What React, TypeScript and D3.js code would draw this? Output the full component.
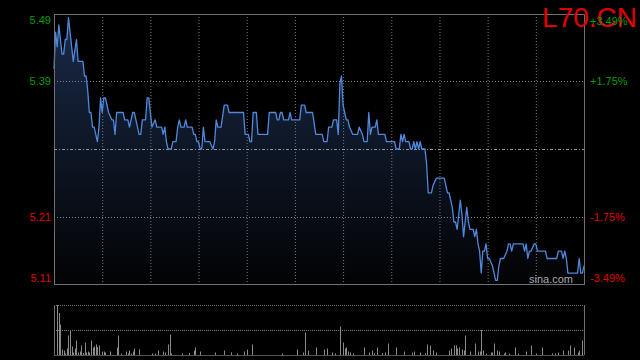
import React from "react";
import * as d3 from "d3";

const title = "L70.CN";
const prevClose = 5.30;
const pctLevels = [0.0349, 0.0175, -0.0175, -0.0349];
const priceLabels = ["5.49", "5.39", "5.21", "5.11"];
const pctLabels = ["+3.49%", "+1.75%", "-1.75%", "-3.49%"];
const totalMinutes = 330;
const gridStepMinutes = 30;

const times = [
  0, 1, 2, 3, 5, 6, 7, 8, 9, 11, 12, 14, 15, 18, 19, 20, 21, 22, 23, 24, 25, 27, 28, 29, 30, 31, 32, 34, 36, 37, 38, 39,
  43, 44, 46, 47, 49, 50, 52, 53, 54, 55, 57, 58, 59, 61, 63, 64, 67, 68, 69, 70, 71, 73, 74, 76, 77, 78, 79, 81, 82, 83,
  86, 87, 88, 89, 90, 91, 92, 93, 94, 97, 99, 100, 101, 102, 104, 106, 108, 109, 118, 119, 121, 122, 123, 124, 126, 127,
  133, 134, 138, 139, 140, 141, 142, 143, 146, 147, 148, 153, 154, 156, 157, 161, 163,
  165, 167, 168, 170, 171, 173, 174, 176, 177, 178, 179, 180, 181, 182, 183, 184, 186, 189, 190, 192, 193, 195, 196, 197,
  198, 200, 201, 202, 206, 207, 212, 213, 215, 216, 217, 218, 219, 221, 222, 223, 224, 225, 226, 227, 228, 229, 231, 232,
  233, 235, 236, 238, 243, 244, 245, 246, 248, 249, 250, 251, 252, 253, 254, 255, 256, 257, 258, 259, 261, 262, 263, 264,
  265, 266, 267, 268, 269, 270, 271, 273, 274, 275, 276, 277, 278, 280, 282, 283, 284, 285, 286, 292, 293, 294, 295, 296,
  297, 299, 300, 301, 306, 307, 313, 314, 316, 317, 318, 319, 320, 326, 327, 328, 329, 330,
];
const prices = [
  5.41, 5.46, 5.44, 5.47, 5.43, 5.43, 5.45, 5.45, 5.48, 5.44, 5.42, 5.45, 5.42, 5.42, 5.40, 5.40, 5.38, 5.35, 5.35, 5.33, 5.33, 5.31, 5.33, 5.37, 5.35, 5.37, 5.37, 5.35, 5.34, 5.34, 5.32, 5.35,
  5.35, 5.34, 5.34, 5.33, 5.35, 5.35, 5.33, 5.32, 5.32, 5.34, 5.34, 5.37, 5.37, 5.33, 5.34, 5.33, 5.33, 5.32, 5.33, 5.31, 5.30, 5.30, 5.31, 5.31, 5.33, 5.34, 5.33, 5.33, 5.34, 5.33,
  5.33, 5.32, 5.32, 5.31, 5.31, 5.30, 5.30, 5.33, 5.31, 5.31, 5.30, 5.31, 5.34, 5.33, 5.33, 5.36, 5.36, 5.35, 5.35, 5.32, 5.32, 5.31, 5.31, 5.35, 5.35, 5.32,
  5.32, 5.35, 5.35, 5.34, 5.34, 5.35, 5.35, 5.34, 5.34, 5.35, 5.34, 5.34, 5.36, 5.36, 5.35, 5.35, 5.32,
  5.32, 5.32, 5.31, 5.31, 5.33, 5.33, 5.34, 5.34, 5.32, 5.39, 5.40, 5.36, 5.35, 5.34, 5.34, 5.33, 5.32, 5.32, 5.33, 5.32, 5.31, 5.31, 5.35, 5.32,
  5.33, 5.33, 5.34, 5.32, 5.32, 5.31, 5.31, 5.30, 5.30, 5.32, 5.31, 5.32, 5.31, 5.31, 5.30, 5.30, 5.31, 5.30, 5.31, 5.30, 5.31, 5.30, 5.30, 5.28,
  5.24, 5.24, 5.25, 5.26, 5.26, 5.25, 5.24, 5.24, 5.22, 5.20, 5.20, 5.19, 5.21, 5.23, 5.21, 5.18, 5.20, 5.22, 5.20, 5.19, 5.19, 5.18, 5.19, 5.17,
  5.16, 5.13, 5.16, 5.16, 5.17, 5.15, 5.15, 5.14, 5.13, 5.12, 5.12, 5.14, 5.15, 5.15, 5.16, 5.17, 5.17, 5.16, 5.17, 5.17, 5.16, 5.17, 5.15, 5.16,
  5.16, 5.17, 5.17, 5.16, 5.16, 5.15, 5.15, 5.16, 5.16, 5.15, 5.16, 5.15, 5.13, 5.13, 5.15, 5.13, 5.13, 5.14,
];

const volTimes = [
  0, 2, 3, 4, 5, 6, 7, 8, 9, 10, 11, 12, 13, 14, 15, 16, 17, 18, 19, 20, 21, 22, 23, 24, 25, 26, 27, 28, 30, 31, 32, 35,
  39, 40, 42, 45, 46, 47, 48, 49, 50, 53, 61, 63, 65, 68, 69, 71, 72, 73, 80, 84, 87, 88, 91, 100, 106, 110, 114, 118, 120, 123,
  142, 151, 155, 156, 158, 163, 168, 170, 173, 175, 178, 180, 181, 182, 183, 184, 186, 193, 196, 198, 199, 201, 204, 206, 208, 213,
  218, 223, 224, 228, 231, 232, 234, 236, 238, 246, 247, 249, 250, 251, 252, 254, 255, 256, 259, 262, 264, 265, 266, 267, 269, 272,
  273, 274, 276, 277, 280, 281, 283, 287, 289, 294, 297, 300, 304, 310, 312, 314, 317, 320, 321, 324, 326, 327, 329, 330,
];
const volumes = [
  39, 100, 84, 61, 11, 9, 3, 13, 39, 48, 17, 5, 13, 29, 5, 7, 19, 4, 25, 5, 7, 5, 29, 15, 17, 21, 16, 19, 7, 7, 5, 7,
  15, 39, 3, 7, 3, 9, 3, 7, 13, 11, 3, 3, 9, 7, 5, 21, 41, 3, 3, 4, 9, 15, 7, 5, 9, 5, 3, 7, 11, 21,
  3, 11, 5, 45, 9, 15, 11, 13, 5, 3, 57, 25, 13, 15, 7, 5, 3, 15, 5, 9, 3, 15, 4, 5, 23, 15,
  7, 5, 7, 5, 4, 21, 19, 9, 5, 9, 13, 19, 19, 13, 15, 11, 9, 39, 7, 23, 7, 7, 50, 9, 3, 5,
  5, 23, 9, 7, 3, 5, 3, 15, 3, 7, 19, 3, 15, 3, 3, 5, 9, 9, 19, 15, 5, 9, 29, 16,
];

export default function App() {
  const W = 640, H = 360;
  const left = 54, right = 584, top = 14, bottom = 284;
  const vTop = 305, vBottom = 355;
  const font = "Arial, 'Liberation Sans', sans-serif";

  const x = d3.scaleLinear().domain([0, totalMinutes]).range([left, right]);
  const y = d3
    .scaleLinear()
    .domain([prevClose * (1 - pctLevels[0]), prevClose * (1 + pctLevels[0])])
    .range([bottom, top]);
  const yv = d3.scaleLinear().domain([0, d3.max(volumes) as number]).range([vBottom, vTop]);

  const pts = times.map((t, i) => [t, prices[i]] as [number, number]);
  const line = d3.line<[number, number]>().x((d) => x(d[0])).y((d) => y(d[1]));
  const area = d3
    .area<[number, number]>()
    .x((d) => x(d[0]))
    .y0(bottom)
    .y1((d) => y(d[1]));

  const vGrid = d3.range(gridStepMinutes, totalMinutes, gridStepMinutes);
  const labelY = (i: number, side: "l" | "r") => {
    if (i === 0) return side === "l" ? top + 10 : top + 11;
    if (i === pctLevels.length - 1) return bottom - 2;
    return y(prevClose * (1 + pctLevels[i])) + 4;
  };
  const colorFor = (i: number) => (pctLevels[i] > 0 ? "#009c00" : "#e00000");

  return (
    <svg width={W} height={H} style={{ position: "fixed", left: 0, top: 0, background: "#000" }}>
      <defs>
        <linearGradient id="fillGrad" gradientUnits="userSpaceOnUse" x1="0" y1={top} x2="0" y2={bottom}>
          <stop offset="0%" stopColor="#1a2a48" />
          <stop offset="100%" stopColor="#020304" />
        </linearGradient>
      </defs>
      <rect x={0} y={0} width={W} height={H} fill="#000" />

      <path d={area(pts) || ""} fill="url(#fillGrad)" />

      {vGrid.map((t) => (
        <line key={"vg" + t} x1={x(t) + 0.5} x2={x(t) + 0.5} y1={top} y2={bottom} stroke="#777" strokeDasharray="1,2" />
      ))}
      {[pctLevels[1], pctLevels[2]].map((p) => (
        <line
          key={"hg" + p}
          x1={left}
          x2={right}
          y1={Math.round(y(prevClose * (1 + p))) + 0.5}
          y2={Math.round(y(prevClose * (1 + p))) + 0.5}
          stroke="#888"
          strokeDasharray="1,2"
        />
      ))}
      <line
        x1={left}
        x2={right}
        y1={Math.round(y(prevClose)) + 0.5}
        y2={Math.round(y(prevClose)) + 0.5}
        stroke="#8d97a5"
        strokeDasharray="3,2,1,2"
      />

      <path d={line(pts) || ""} fill="none" stroke="#4f88dc" strokeWidth={1.3} strokeLinejoin="round" />

      <rect x={left + 0.5} y={top + 0.5} width={right - left} height={bottom - top} fill="none" stroke="#707070" />

      <text x={637} y={27} textAnchor="end" fill="#e00000" fontFamily={font} fontSize={28}>
        {title}
      </text>

      {priceLabels.map((s, i) => (
        <text key={"pl" + i} x={51} y={labelY(i, "l")} textAnchor="end" fill={colorFor(i)} fontFamily={font} fontSize={11}>
          {s}
        </text>
      ))}
      {pctLabels.map((s, i) => (
        <text key={"pr" + i} x={590} y={labelY(i, "r")} textAnchor="start" fill={colorFor(i)} fontFamily={font} fontSize={11}>
          {s}
        </text>
      ))}
      <text x={573} y={283} textAnchor="end" fill="#aaa" fontFamily={font} fontSize={11}>
        sina.com
      </text>

      {/* volume panel */}
      <line x1={left} x2={right} y1={vTop + 0.5} y2={vTop + 0.5} stroke="#777" strokeDasharray="1,1" />
      <line x1={left} x2={right} y1={(vTop + vBottom) / 2 + 0.5} y2={(vTop + vBottom) / 2 + 0.5} stroke="#777" strokeDasharray="1,1" />
      {volTimes.map((t, i) => (
        <line
          key={"v" + i}
          x1={Math.round(x(t)) + 0.5}
          x2={Math.round(x(t)) + 0.5}
          y1={vBottom}
          y2={yv(volumes[i])}
          stroke="#8a8a8a"
        />
      ))}
      <line x1={left + 0.5} x2={left + 0.5} y1={vTop} y2={vBottom} stroke="#707070" />
      <line x1={right + 0.5} x2={right + 0.5} y1={vTop} y2={vBottom} stroke="#707070" />
      <line x1={left} x2={right} y1={vBottom + 0.5} y2={vBottom + 0.5} stroke="#555" />
    </svg>
  );
}
